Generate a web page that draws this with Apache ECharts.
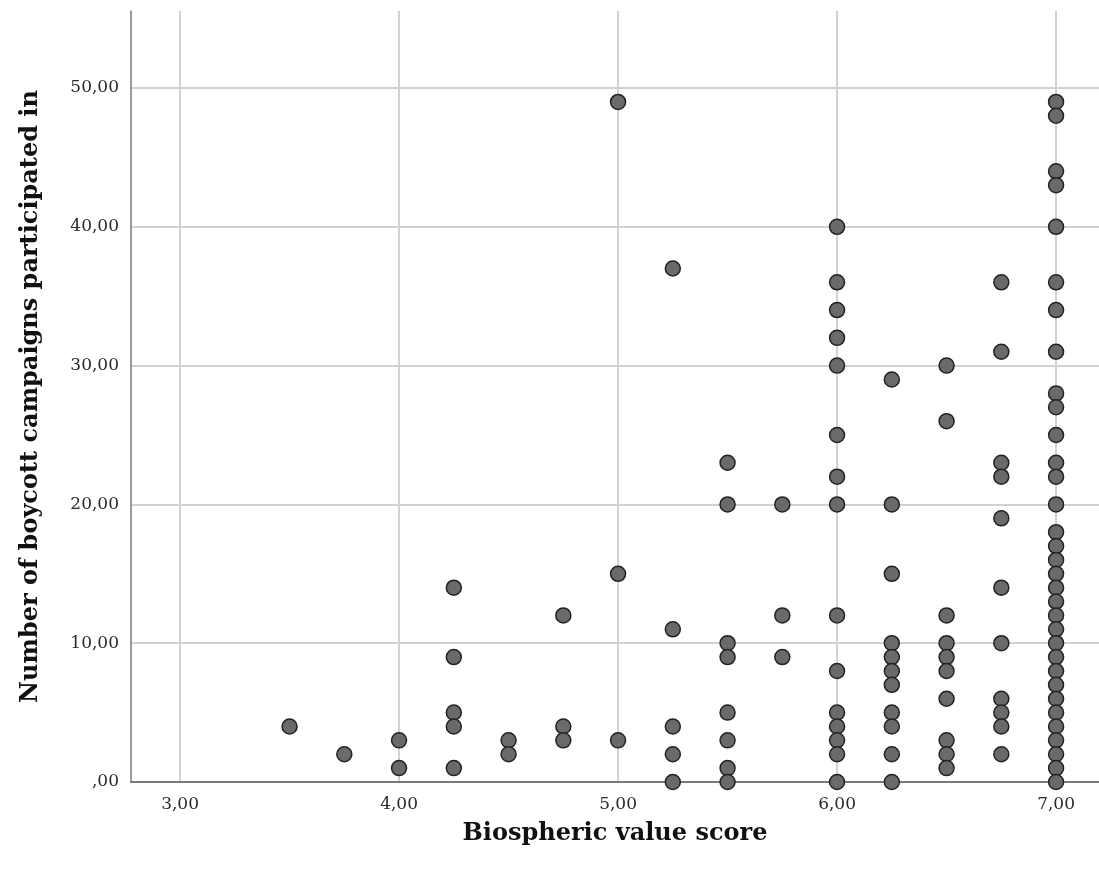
<!DOCTYPE html>
<html>
<head>
<meta charset="utf-8">
<script src="https://cdn.jsdelivr.net/npm/echarts@6/dist/echarts.min.js"></script>
<style>
  html, body { margin: 0; padding: 0; background: #fff; }
  #chart { width: 1099px; height: 877px; }
</style>
</head>
<body>
<div id="chart"></div>
<script>
// biospheric value score levels (x) and the boycott counts seen at each level (y)
const scoreLevels = [3.5, 3.75, 4, 4.25, 4.5, 4.75, 5, 5.25, 5.5, 5.75, 6, 6.25, 6.5, 6.75, 7];
const boycottCounts = [
  [4],
  [2],
  [3, 1],
  [14, 9, 5, 4, 1],
  [3, 2],
  [12, 4, 3],
  [49, 15, 3],
  [37, 11, 4, 2, 0],
  [23, 20, 10, 9, 5, 3, 1, 0],
  [20, 12, 9],
  [40, 36, 34, 32, 30, 25, 22, 20, 12, 8, 5, 4, 3, 2, 0],
  [29, 20, 15, 10, 9, 8, 7, 5, 4, 2, 0],
  [30, 26, 12, 10, 9, 8, 6, 3, 2, 1],
  [36, 31, 23, 22, 19, 14, 10, 6, 5, 4, 2],
  [49, 48, 44, 43, 40, 36, 34, 31, 28, 27, 25, 23, 22, 20, 18, 17, 16, 15, 14, 13, 12, 11, 10, 9, 8, 7, 6, 5, 4, 3, 2, 1, 0]
];
const xTicks = [3, 4, 5, 6, 7];
const yTicks = [0, 10, 20, 30, 40, 50];

let points = [];
scoreLevels.forEach(function (x, i) {
  boycottCounts[i].forEach(function (y) { points.push([x, y]); });
});

// SPSS style: comma decimals, zero shown as ",00"
function fmt(v) {
  if (v === 0) return ',00';
  return v.toFixed(2).replace('.', ',');
}

const serif = 'DejaVu Serif';
let chart = echarts.init(document.getElementById('chart'));
chart.setOption({
  animation: false,
  grid: { left: 131, right: 0, top: 11, bottom: 95 },
  xAxis: {
    type: 'value',
    min: 2.776,
    max: 7.196,
    name: 'Biospheric value score',
    nameLocation: 'middle',
    nameGap: 40,
    nameTextStyle: { fontFamily: serif, fontWeight: 'bold', fontSize: 24, color: '#111' },
    axisLine: { show: true, lineStyle: { color: '#7a7a7a', width: 2 } },
    axisTick: { show: false, customValues: xTicks },
    axisLabel: { customValues: xTicks, formatter: fmt, margin: 14,
      fontFamily: serif, fontSize: 17, color: '#2a2a2a' },
    splitLine: { show: true, lineStyle: { color: '#d2d2d2', width: 2 } }
  },
  yAxis: {
    type: 'value',
    min: 0,
    max: 55.55,
    name: 'Number of boycott campaigns participated in',
    nameLocation: 'middle',
    nameGap: 88,
    nameTextStyle: { fontFamily: serif, fontWeight: 'bold', fontSize: 24, color: '#111' },
    axisLine: { show: true, lineStyle: { color: '#7a7a7a', width: 1.5 } },
    axisTick: { show: false, customValues: yTicks },
    axisLabel: { customValues: yTicks, formatter: fmt, margin: 12,
      fontFamily: serif, fontSize: 17, color: '#2a2a2a' },
    splitLine: { show: true, lineStyle: { color: '#d2d2d2', width: 2 } }
  },
  series: [{
    type: 'scatter',
    clip: false,
    symbol: 'circle',
    symbolSize: 15,
    itemStyle: { color: '#6a6a6a', borderColor: '#222', borderWidth: 1.5, opacity: 1 },
    data: points
  }]
});
</script>
</body>
</html>
